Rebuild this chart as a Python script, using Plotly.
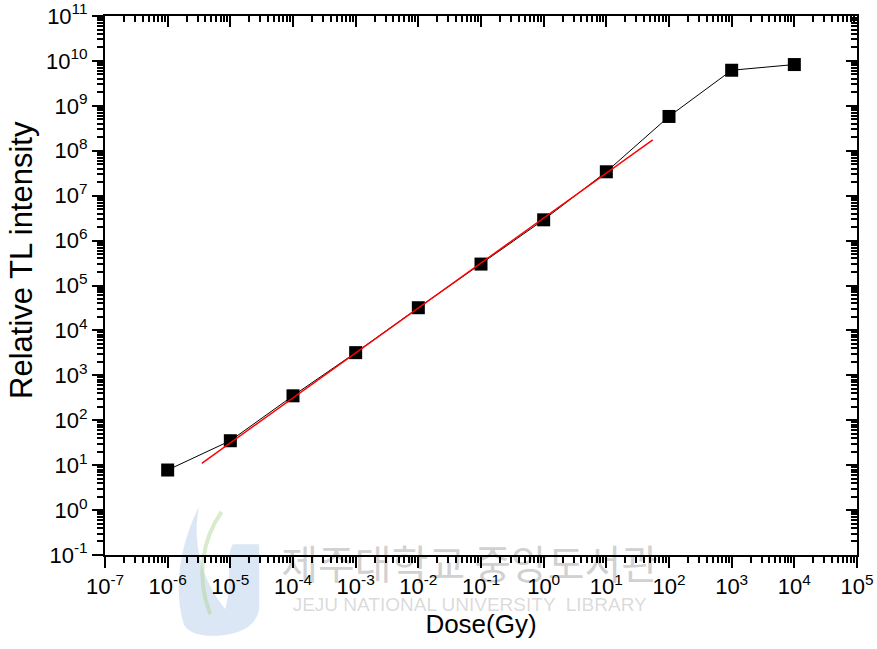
import plotly.graph_objects as go

# Data
dose = [1e-6, 1e-5, 1e-4, 1e-3, 1e-2, 1e-1, 1e0, 1e1, 1e2, 1e3, 1e4]
intensity = [7.8, 35, 350, 3200, 32000, 3.0e5, 2.9e6, 3.4e7, 5.8e8, 6.2e9, 8.3e9]

fit_dose = [3.5e-6, 55]
fit_intensity = [11, 1.75e8]

x_exps = list(range(-7, 6))
y_exps = list(range(-1, 12))
x_tickvals = [10.0 ** e for e in x_exps]
x_ticktext = [f"10<sup>{e}</sup>" for e in x_exps]
y_tickvals = [10.0 ** e for e in y_exps]
y_ticktext = [f"10<sup>{e}</sup>" for e in y_exps]

x_minor = [m * 10.0 ** e for e in x_exps[:-1] for m in range(2, 10)]
y_minor = [m * 10.0 ** e for e in y_exps[:-1] for m in range(2, 10)]

FONT = "Liberation Sans, Arial, sans-serif"

fig = go.Figure()

# faint logo of the library watermark (drawn beneath everything)
fig.add_shape(type="path", xref="paper", yref="paper", layer="below",
              path="M 0.105,-0.13 C 0.09,-0.06 0.10,0.02 0.125,0.09 C 0.115,0.02 0.13,-0.05 0.16,-0.10 "
                   "C 0.17,-0.05 0.16,0.0 0.17,0.02 L 0.205,0.02 L 0.205,-0.10 "
                   "C 0.20,-0.14 0.17,-0.15 0.14,-0.15 C 0.12,-0.15 0.11,-0.14 0.105,-0.13 Z",
              fillcolor="rgba(140,175,225,0.30)", line=dict(width=0))
fig.add_shape(type="path", xref="paper", yref="paper", layer="below",
              path="M 0.14,-0.11 C 0.12,-0.04 0.13,0.03 0.155,0.08",
              line=dict(color="rgba(170,210,140,0.45)", width=4))

# faint library watermark text, drawn beneath the tick labels
fig.add_shape(type="rect", xref="paper", yref="paper", layer="below",
              x0=0.22, x1=0.75, y0=-0.06, y1=0.012,
              fillcolor="rgba(0,0,0,0)", line=dict(width=0),
              label=dict(text="제주대학교 중앙도서관", textposition="middle center",
                         font=dict(size=40, color="rgba(150,150,150,0.45)",
                                   family="Noto Sans CJK KR")))
fig.add_shape(type="rect", xref="paper", yref="paper", layer="below",
              x0=0.22, x1=0.75, y0=-0.11, y1=-0.068,
              fillcolor="rgba(0,0,0,0)", line=dict(width=0),
              label=dict(text="JEJU NATIONAL UNIVERSITY  LIBRARY", textposition="middle center",
                         font=dict(size=19, color="rgba(150,150,150,0.35)", family=FONT)))

fig.add_trace(go.Scatter(x=dose, y=intensity, mode="lines+markers",
                         line=dict(color="black", width=1),
                         marker=dict(symbol="square", size=13, color="black"),
                         showlegend=False))
fig.add_trace(go.Scatter(x=fit_dose, y=fit_intensity, mode="lines",
                         line=dict(color="#ff0000", width=1.5),
                         showlegend=False))
# invisible trace to anchor mirror axes
fig.add_trace(go.Scatter(x=[dose[0]], y=[intensity[0]], xaxis="x2", yaxis="y2",
                         mode="markers", marker=dict(opacity=0), showlegend=False,
                         hoverinfo="skip"))

common_x = dict(type="log", range=[-7, 5], showgrid=False, zeroline=False, automargin=False,
                linecolor="black", linewidth=2, tickcolor="black", tickwidth=2)
common_y = dict(type="log", range=[-1, 11], showgrid=False, zeroline=False, automargin=False,
                linecolor="black", linewidth=2, tickcolor="black", tickwidth=2)

fig.update_layout(
    width=877, height=649,
    margin=dict(l=105, r=20, t=16, b=94),
    paper_bgcolor="white", plot_bgcolor="white",
    font=dict(family=FONT, color="black", size=22),
    xaxis=dict(**common_x, showline=True, ticks="outside", ticklen=11,
               tickvals=x_tickvals, ticktext=x_ticktext,
               tickfont=dict(size=22, family=FONT),
               minor=dict(tickvals=x_minor, ticks="outside", ticklen=6,
                          tickcolor="black", tickwidth=2),
               title=dict(text="Dose(Gy)", font=dict(size=26, family=FONT), standoff=16)),
    yaxis=dict(**common_y, showline=True, ticks="outside", ticklen=11,
               tickvals=y_tickvals, ticktext=y_ticktext,
               tickfont=dict(size=22, family=FONT),
               minor=dict(tickvals=y_minor, ticks="outside", ticklen=6,
                          tickcolor="black", tickwidth=2)),
    xaxis2=dict(**common_x, overlaying="x", side="top", anchor="y", showline=True,
                ticks="inside", ticklen=11, tickvals=x_tickvals, showticklabels=False,
                minor=dict(tickvals=x_minor, ticks="inside", ticklen=6,
                           tickcolor="black", tickwidth=2)),
    yaxis2=dict(**common_y, overlaying="y", side="right", anchor="x", showline=True,
                ticks="inside", ticklen=11, tickvals=y_tickvals, showticklabels=False,
                minor=dict(tickvals=y_minor, ticks="inside", ticklen=6,
                           tickcolor="black", tickwidth=2)),
)

# y-axis title, placed as in the reference
fig.add_annotation(text="Relative TL intensity", xref="paper", yref="paper",
                   x=-0.112, y=0.547, xanchor="center", yanchor="middle", textangle=-90,
                   showarrow=False, font=dict(size=31, family=FONT, color="black"))

fig.write_html("out.html")
